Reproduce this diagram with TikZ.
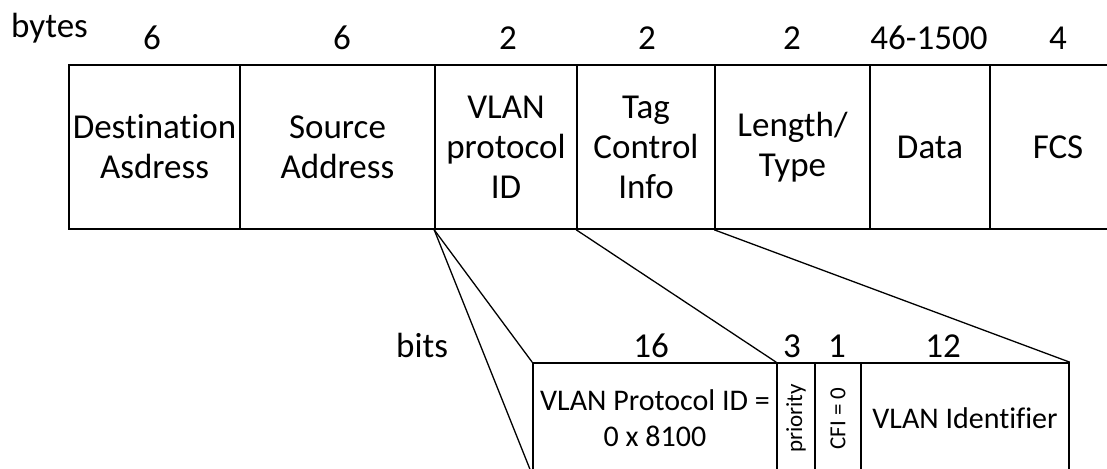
\documentclass[tikz,border=0pt]{standalone}
\usepackage{fontspec}
\setmainfont{Carlito}[Ligatures=NoCommon]
\begin{document}
\begin{tikzpicture}[x=1pt,y=-1pt,
  field/.style={draw, line width=1.6pt, inner sep=0pt, align=center, minimum height=164pt, font=\fontsize{35}{40}\selectfont},
  bfield/.style={draw, line width=1.6pt, inner sep=0pt, align=center, minimum height=111pt, font=\fontsize{30}{36}\selectfont},
  lab/.style={inner sep=0pt, anchor=base, font=\fontsize{35}{40}\selectfont},
  small/.style={inner sep=0pt, rotate=90, font=\fontsize{23}{26}\selectfont},
  conn/.style={line width=1.3pt}]
\useasboundingbox (0,0) rectangle (1107,468);
\clip (0,0) rectangle (1107,468);
% top frame fields
\node[field, minimum width=171pt] (dst)  at (154.5,147) {Destination\\Asdress};
\node[field, minimum width=195pt] (src)  at (337.5,147) {Source\\Address};
\node[field, minimum width=142pt] (vpid) at (506,147) {VLAN\\protocol\\ID};
\node[field, minimum width=138pt] (tci)  at (646,147) {Tag\\Control\\Info};
\node[field, minimum width=155pt] (len)  at (792.5,147) {Length/\\Type};
\node[field, minimum width=120pt] (data) at (930,147) {Data};
\node[field, minimum width=136pt] (fcs)  at (1058,147) {FCS};
% byte labels
\node[lab, anchor=base west] (bytes) at (11,38) {bytes};
\node[lab] (n1) at (152,50) {6};
\node[lab] (n2) at (342,50) {6};
\node[lab] (n3) at (508,50) {2};
\node[lab] (n4) at (647,50) {2};
\node[lab] (n5) at (792,50) {2};
\node[lab] (n6) at (929,50) {46-1500};
\node[lab] (n7) at (1058,50) {4};
% bottom fields
\node[bfield, minimum width=244pt] (bpid) at (655,418.5) {VLAN Protocol ID =\\0 x 8100};
\node[bfield, minimum width=38pt]  (prio) at (796,418.5) {};
\node[bfield, minimum width=46pt]  (cfi)  at (838,418.5) {};
\node[bfield, minimum width=208pt] (vid)  at (965,418.5) {VLAN Identifier};
\node[small] (priot) at (prio.center) {priority};
\node[small] (cfit) at (cfi.center) {CFI = 0};
% bit labels
\node[lab, anchor=base west] (bits) at (396,357) {bits};
\node[lab] (b1) at (651,357) {16};
\node[lab] (b2) at (792,357) {3};
\node[lab] (b3) at (837,357) {1};
\node[lab] (b4) at (943,357) {12};
% connectors
\draw[conn] (vpid.south west) -- (bpid.north west);
\draw[conn] (vpid.south west) -- (bpid.south west);
\draw[conn] (tci.south west) -- (prio.north west);
\draw[conn] (len.south west) -- (vid.north east);
\end{tikzpicture}
\end{document}
